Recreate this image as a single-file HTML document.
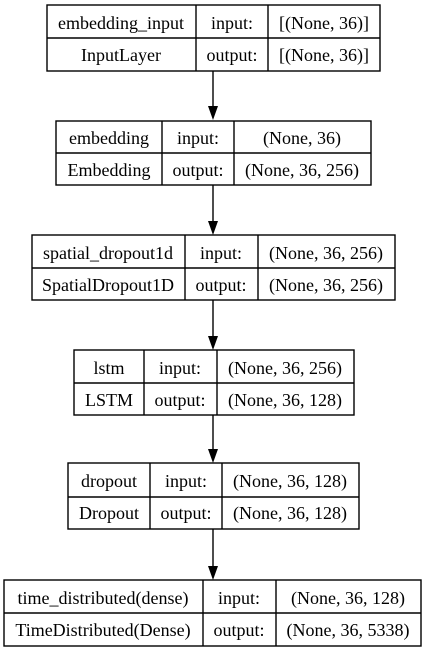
<!DOCTYPE html>
<html><head><meta charset="utf-8"><style>html,body{margin:0;padding:0;background:#fff}svg{display:block}</style></head><body>
<svg width="428" height="651" viewBox="0 0 428 651" xmlns="http://www.w3.org/2000/svg" font-family="'Liberation Serif', serif" font-size="18" fill="#000">
<g stroke="#000" stroke-width="1.4" fill="none">
<rect x="47" y="5" width="333" height="66"/><line x1="47" y1="38" x2="380" y2="38"/><line x1="196" y1="5" x2="196" y2="71"/><line x1="268" y1="5" x2="268" y2="71"/>
<rect x="56" y="121" width="315" height="64"/><line x1="56" y1="153" x2="371" y2="153"/><line x1="162" y1="121" x2="162" y2="185"/><line x1="234" y1="121" x2="234" y2="185"/>
<rect x="32" y="235" width="363" height="65"/><line x1="32" y1="268" x2="395" y2="268"/><line x1="185" y1="235" x2="185" y2="300"/><line x1="258" y1="235" x2="258" y2="300"/>
<rect x="74" y="350" width="280" height="65"/><line x1="74" y1="383" x2="354" y2="383"/><line x1="144" y1="350" x2="144" y2="415"/><line x1="217" y1="350" x2="217" y2="415"/>
<rect x="68" y="463" width="291" height="66"/><line x1="68" y1="497" x2="359" y2="497"/><line x1="150" y1="463" x2="150" y2="529"/><line x1="222" y1="463" x2="222" y2="529"/>
<rect x="4" y="580" width="417" height="66"/><line x1="4" y1="613" x2="421" y2="613"/><line x1="203" y1="580" x2="203" y2="646"/><line x1="276" y1="580" x2="276" y2="646"/>
<line x1="213" y1="71" x2="213" y2="106"/><line x1="213" y1="185" x2="213" y2="221"/><line x1="213" y1="300" x2="213" y2="336"/><line x1="213" y1="415" x2="213" y2="449"/><line x1="213" y1="529" x2="213" y2="566"/>
</g>
<g fill="#000">
<polygon points="208,106 218,106 213,120"/><polygon points="208,221 218,221 213,235"/><polygon points="208,336 218,336 213,350"/><polygon points="208,449 218,449 213,463"/><polygon points="208,566 218,566 213,580"/>
</g>
<g text-anchor="middle">
<text x="121" y="29">embedding_input</text><text x="232" y="29">input:</text><text x="324" y="29">[(None, 36)]</text>
<text x="121" y="61">InputLayer</text><text x="232" y="61">output:</text><text x="324" y="61">[(None, 36)]</text>
<text x="109" y="144">embedding</text><text x="198" y="144">input:</text><text x="302" y="144">(None, 36)</text>
<text x="109" y="176">Embedding</text><text x="198" y="176">output:</text><text x="302" y="176">(None, 36, 256)</text>
<text x="108" y="259">spatial_dropout1d</text><text x="221" y="259">input:</text><text x="326" y="259">(None, 36, 256)</text>
<text x="108" y="291">SpatialDropout1D</text><text x="221" y="291">output:</text><text x="326" y="291">(None, 36, 256)</text>
<text x="109" y="374">lstm</text><text x="180" y="374">input:</text><text x="285" y="374">(None, 36, 256)</text>
<text x="109" y="406">LSTM</text><text x="180" y="406">output:</text><text x="285" y="406">(None, 36, 128)</text>
<text x="109" y="487">dropout</text><text x="186" y="487">input:</text><text x="290" y="487">(None, 36, 128)</text>
<text x="109" y="519">Dropout</text><text x="186" y="519">output:</text><text x="290" y="519">(None, 36, 128)</text>
<text x="103" y="604">time_distributed(dense)</text><text x="239" y="604">input:</text><text x="348" y="604">(None, 36, 128)</text>
<text x="103" y="636">TimeDistributed(Dense)</text><text x="239" y="636">output:</text><text x="348" y="636">(None, 36, 5338)</text>
</g>
</svg>
</body></html>
